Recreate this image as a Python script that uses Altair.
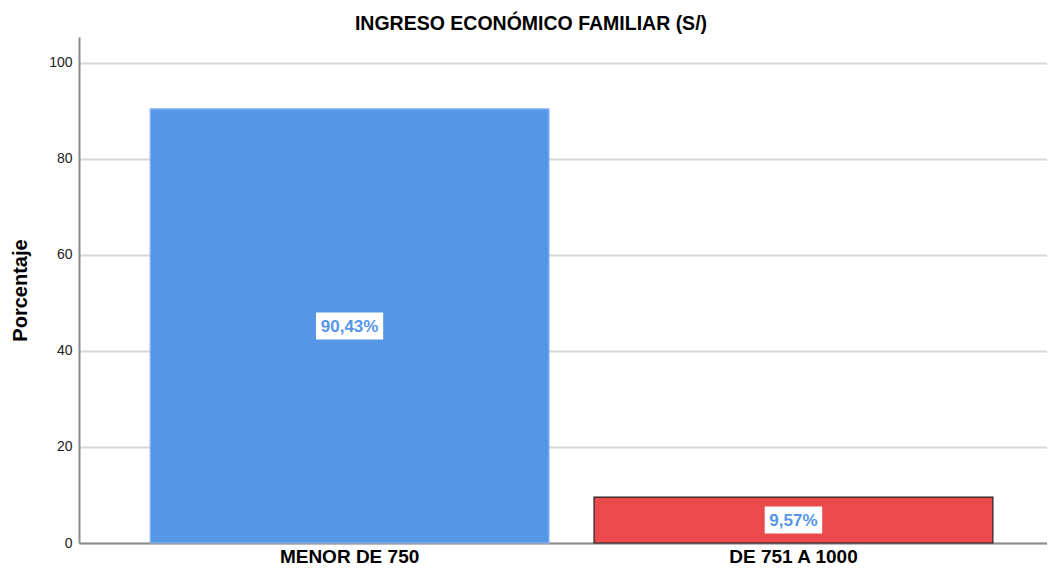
import altair as alt
import pandas as pd

categories = ["MENOR DE 750", "DE 751 A 1000"]
values = [90.43, 9.57]
bar_colors = ["#5596E6", "#EB4A4C"]
bar_strokes = ["#8FB8EE", "#222222"]
y_ticks = [0, 20, 40, 60, 80, 100]
title_text = "INGRESO ECONÓMICO FAMILIAR (S/)"
y_title = "Porcentaje"

PAD_L, PAD_T, PAD_B = 71, 29, 24
PLOT_W = 968
PLOT_H = 506
Y_MAX = 105.4
px_per_unit = PLOT_H / Y_MAX
box_half = 13.5 / px_per_unit

labels = [f"{v:.2f}".replace(".", ",") + "%" for v in values]
df = pd.DataFrame({
    "cat": categories,
    "val": values,
    "fill": bar_colors,
    "stroke": bar_strokes,
    "mid": [v / 2 for v in values],
    "lo": [v / 2 - box_half for v in values],
    "hi": [v / 2 + box_half for v in values],
    "label": labels,
    "boxw": [9 + 9.7 * len(s) for s in labels],
})

xscale = alt.Scale(domain=categories, paddingInner=0.1014,
                   paddingOuter=0.1411, align=0.568)
yscale = alt.Scale(domain=[0, Y_MAX], nice=False, zero=True)

x_enc = alt.X("cat:N", scale=xscale, sort=categories,
              axis=alt.Axis(title=None, labelAngle=0, ticks=False,
                            labelFontSize=19, labelFontWeight="bold",
                            labelColor="#000000", labelPadding=4.5,
                            domainColor="#8c8c8c", domainWidth=2,
                            labelFont="Liberation Sans"))

bars = alt.Chart(df).mark_bar(strokeWidth=1.2).encode(
    x=x_enc,
    y=alt.Y("val:Q", scale=yscale,
            axis=alt.Axis(title=y_title, values=y_ticks, ticks=False,
                          labelFontSize=14, labelColor="#222222",
                          labelPadding=7, labelFont="Liberation Sans",
                          titleFont="Liberation Sans", titleFontSize=20,
                          titleFontWeight="bold", titleColor="#000000",
                          titlePadding=18,
                          grid=True, gridColor="#d6d6d6", gridWidth=2,
                          domainColor="#8c8c8c", domainWidth=2)),
    fill=alt.Fill("fill:N", scale=None),
    stroke=alt.Stroke("stroke:N", scale=None),
)

boxes = alt.Chart(df).mark_bar(color="#ffffff").encode(
    x=alt.X("cat:N", scale=xscale, sort=categories),
    y=alt.Y("lo:Q", scale=yscale),
    y2="hi:Q",
    size=alt.Size("boxw:Q", scale=None),
)

texts = alt.Chart(df).mark_text(
    font="Liberation Sans", fontSize=17, fontWeight="bold",
    color="#5596E6", baseline="middle", align="center", dy=1
).encode(
    x=alt.X("cat:N", scale=xscale, sort=categories),
    y=alt.Y("mid:Q", scale=yscale),
    text="label:N",
)

chart = alt.layer(bars, boxes, texts).properties(
    width=PLOT_W,
    height=PLOT_H,
    title=alt.TitleParams(title_text, font="Liberation Sans", fontSize=19.5,
                          fontWeight="bold", color="#000000", dx=-32,
                          offset=3, anchor="middle"),
    autosize=alt.AutoSizeParams(type="none"),
    padding={"left": PAD_L, "top": PAD_T, "right": 0, "bottom": PAD_B},
).configure(background="#ffffff").configure_view(stroke=None)

chart.save("out.html", embed_options={"renderer": "svg", "actions": False})
